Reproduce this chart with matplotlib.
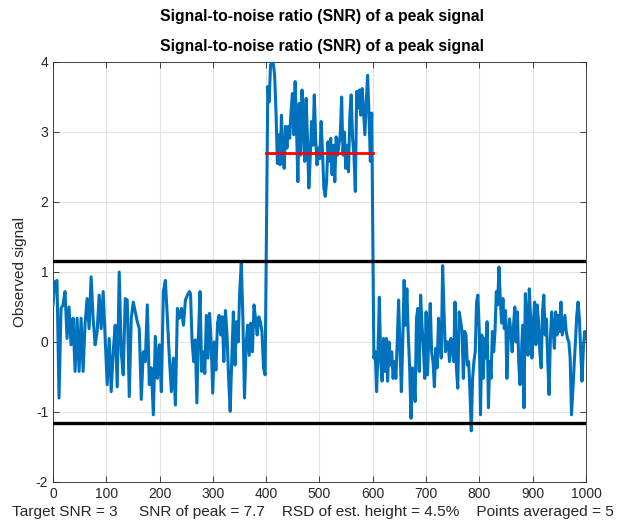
import numpy as np
import matplotlib.pyplot as plt

# observed signal, read in pieces (baseline / peak / baseline)
left_a = [0.53, 0.86, 0.88, -0.80, 0.48, 0.53, 0.72, 0.05, 0.50, -0.04, 0.34, -0.42, 0.34, -0.42,
          0.34, -0.42, 0.27, 0.62, 0.19, 0.93, 0.34, -0.04, 0.15, 0.67, 0.19, 0.72, 0.05, -0.61,
          0.05, -0.71, -0.14, 0.24, -0.64, 1.00, -0.14, -0.47, 0.62, 0.60, -0.78, 0.34, 0.57, 0.43,
          0.29, 0.19, -0.82, -0.14, -0.28, 0.53, -0.61, -0.37, -1.04, 0.08, -0.52, -0.04, -0.71,
          0.72, 0.88, 0.34, -0.23, -0.71, -0.23, -0.90, 0.48, 0.34, 0.48, 0.24, 0.60, 0.67, 0.72]
left_b = [0.69, 0.00, -0.28, 0.03, -0.87, 0.10, 0.72, -0.42, -0.14, -0.45, 0.38, -0.23, 0.41,
          0.00, -0.73, 0.00, -0.40, 0.27, 0.38, 0.10, 0.36, -0.28, 0.45, 0.10, -0.52, -0.99, -0.23,
          0.43, -0.33, 0.29, 0.00, 0.72, 1.14, 0.33, -0.80, -0.04, 0.24, -0.19, 0.27, -0.14, 0.53,
          0.33, 0.10, 0.36, 0.29, 0.15, -0.37, -0.47]
peak = [3.65, 3.43, 3.96, 3.99, 3.98, 3.81, 3.29, 2.55, 2.96, 2.53, 3.24, 2.67, 2.48, 3.08, 2.77,
        3.08, 2.91, 3.29, 3.55, 2.96, 3.72, 3.05, 2.29, 3.41, 2.67, 3.60, 3.15, 2.58, 3.48, 2.91,
        2.20, 2.62, 3.15, 2.81, 3.53, 2.91, 2.53, 2.77, 2.62, 3.15, 2.72, 2.20, 2.08, 2.29, 2.86,
        2.58, 2.91, 2.39, 2.81, 2.29, 2.93, 2.67, 2.81, 2.96, 3.50, 2.67, 3.00, 2.48, 2.81, 2.43,
        3.24, 3.53, 2.91, 2.67, 2.15, 3.58, 3.34, 3.60, 3.24, 3.62, 3.29, 2.96, 3.43, 3.81, 3.24,
        2.58, 3.27]
right_a = [-0.23, -0.14, -0.71, -0.14, 0.64, -0.28, -0.56, 0.05, -0.42, 0.05, -0.56, 0.00, -0.33,
           -0.14, -0.52, -0.28, -0.52, 0.00, 0.60, -0.09, -0.71, 0.00, 0.88, 0.24, 0.76, 0.10,
           -0.35, -1.09, -0.37, -0.56, -0.85, 0.34, 0.48, -0.42, 0.67, 0.24, -0.09, -0.52, 0.43,
           -0.47, 0.10, 0.55, -0.14, -0.28, -0.64, -0.09, -0.37, 0.34, 0.00, -0.23, 1.09, 0.43,
           -0.14, 0.00, 0.00, -0.28, 0.05, -0.04, -0.28, 0.57, -0.37, -0.66, 0.43]
right_b = [0.29, 0.15, -0.52, 0.15, 0.10, -0.33, -0.28, -0.71, -1.27, -0.52, -0.28, -0.14, 0.57,
           0.67, 0.19, -1.04, 0.10, -0.52, 0.05, -0.23, 0.29, -0.94, -0.28, -0.52, 0.15, -0.14,
           0.15, 0.72, 0.53, 1.07, 0.62, 0.27, 0.62, 0.19, 0.45, -0.52, 0.05, 0.33, 0.15, -0.14,
           0.22, 0.50, 0.00, 0.43, -0.30, -0.61, -0.19, 0.24, -0.94, 0.69, 0.33, -0.19, 0.76, 0.33,
           -0.23, 0.24, 0.57, -0.04, 0.53, 0.29, -0.14, -0.37, 0.43, 0.67, 0.10, 0.33, -0.28, -0.75,
           0.05, 0.43, 0.19, -0.09, 0.43, 0.10, 0.38, 0.15, 0.57, 0.10, 0.24, 0.38, 0.15, 0.05, 0.00,
           -0.23, -1.04, -0.71, -0.33, 0.00, 0.38, 0.57, 0.33, -0.14, -0.56, -0.09, 0.15, 0.05]
# x ranges of each piece
spans = [(0, 256), (258, 398), (403, 598), (602, 762), (765, 1000)]

noise_limit = 1.16      # +/- black threshold lines
est_height = 2.7        # red line, estimated peak height
peak_range = (400, 600)

target_snr = 3
snr_peak = 7.7
rsd_height = 4.5
n_avg = 5

pieces = [left_a, left_b, peak, right_a, right_b]
x = np.concatenate([np.linspace(a, b, len(p)) for (a, b), p in zip(spans, pieces)])
y = np.concatenate(pieces)

plt.rcParams['font.family'] = ['Liberation Sans', 'DejaVu Sans']
plt.rcParams['axes.unicode_minus'] = False
fig = plt.figure(figsize=(6.28, 5.27), dpi=100)
ax = fig.add_axes([0.0844, 0.0854, 0.8487, 0.7970])

ax.plot(x, y, color='#0072BD', lw=2.2, zorder=3)
ax.axhline(noise_limit, color='black', lw=2.4, zorder=4)
ax.axhline(-noise_limit, color='black', lw=2.4, zorder=4)
ax.plot(peak_range, [est_height, est_height], color='red', lw=2, zorder=5)

ax.set_xlim(0, 1000)
ax.set_ylim(-2, 4)
ax.set_xticks(np.arange(0, 1001, 100))
ax.set_yticks(np.arange(-2, 5, 1))
ax.grid(True, color='#e3e3e3', lw=0.8)
ax.set_axisbelow(True)
ax.tick_params(direction='in', top=True, right=True, length=4, labelsize=10,
               colors='#262626', width=0.6)
for s in ax.spines.values():
    s.set_color('#262626')
    s.set_linewidth(0.6)

ax.set_ylabel('Observed signal', fontsize=11, color='#262626', labelpad=6)
ax.set_xlabel(f'Target SNR = {target_snr}     SNR of peak = {snr_peak}    '
              f'RSD of est. height = {rsd_height}%    Points averaged = {n_avg}',
              fontsize=11.1, color='#262626', loc='left', labelpad=3)
ax.xaxis.set_label_coords(-0.077, -0.055)
title = 'Signal-to-noise ratio (SNR) of a peak signal'
fig.text(0.513, 0.911, title, fontsize=11.3, fontweight='bold', ha='center', va='center')
fig.text(0.513, 0.968, title, fontsize=11.3, fontweight='bold', ha='center', va='center')

fig.savefig('out.png', dpi=100)
